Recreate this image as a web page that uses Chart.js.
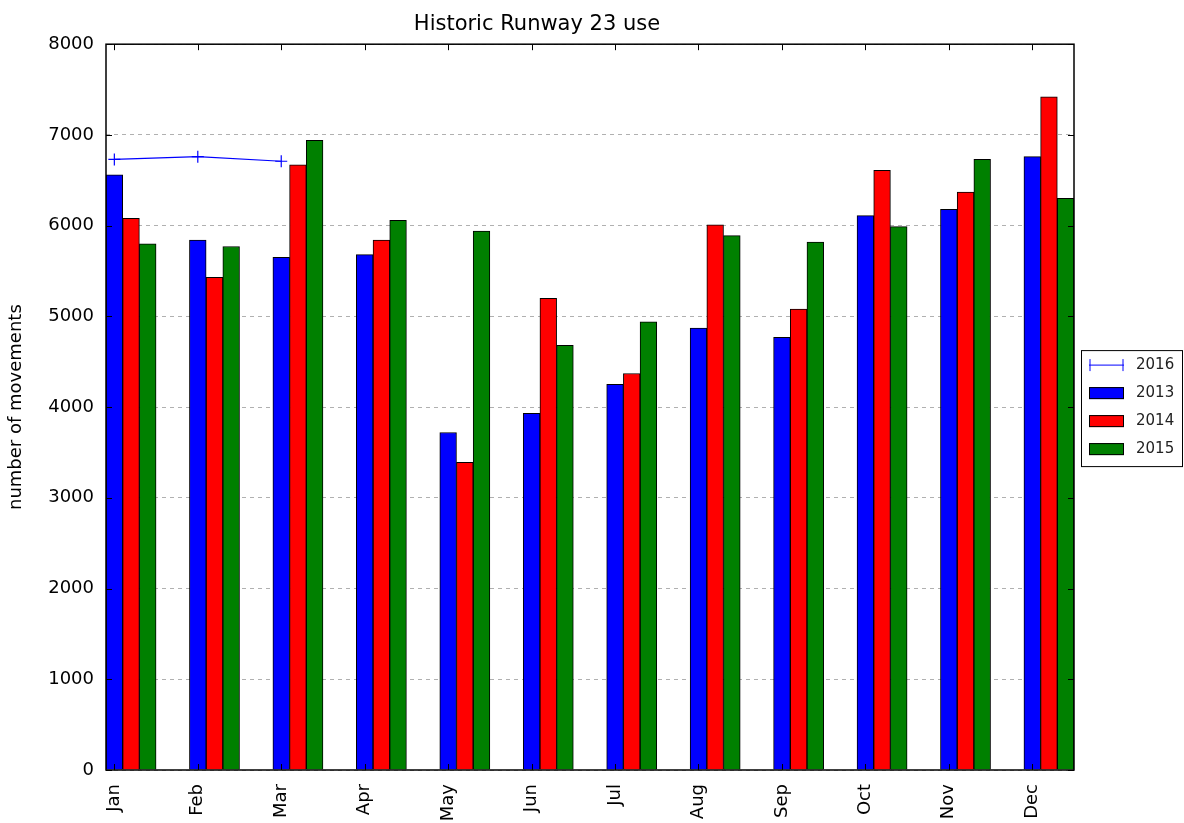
<!DOCTYPE html>
<html>
<head>
<meta charset="utf-8">
<script src="https://cdn.jsdelivr.net/npm/chart.js@4"></script>
<style>
  html, body { margin: 0; padding: 0; background: #fff; }
  #wrap { width: 1184px; height: 823px; }
</style>
</head>
<body>
<div id="wrap"><canvas id="chart"></canvas></div>
<script>
// Historic Runway 23 use - monthly movements

const months = ['Jan', 'Feb', 'Mar', 'Apr', 'May', 'Jun', 'Jul', 'Aug', 'Sep', 'Oct', 'Nov', 'Dec'];
const v2013 = [6560, 5840, 5650, 5680, 3720, 3930, 4250, 4870, 4770, 6110, 6180, 6760];
const v2014 = [6080, 5430, 6670, 5840, 3390, 5200, 4370, 6010, 5080, 6610, 6370, 7420];
const v2015 = [5800, 5770, 6940, 6060, 5940, 4680, 4940, 5890, 5820, 5990, 6730, 6300];
const v2016 = [6730, 6760, 6710];
const yTicks = [0, 1000, 2000, 3000, 4000, 5000, 6000, 7000, 8000];

const FONT = 'DejaVu Sans';

// bars sit side by side, first bar of each group centred on the month tick
function barPoints(values, shift) {
    return values.map((v, i) => ({ x: i + shift, y: v }));
}

// black frame around the plot area plus matplotlib-style inward ticks
const framePlugin = {
    id: 'frame',
    afterDraw(chart) {
        const { ctx, chartArea: a, scales } = chart;
        ctx.save();
        ctx.strokeStyle = '#000';
        ctx.lineWidth = 1;
        ctx.beginPath();
        yTicks.forEach(t => {
            const y = Math.round(scales.y.getPixelForValue(t)) + 0.5;
            ctx.moveTo(a.left, y); ctx.lineTo(a.left + 6, y);
            ctx.moveTo(a.right, y); ctx.lineTo(a.right - 6, y);
        });
        months.forEach((m, i) => {
            const x = Math.round(scales.x.getPixelForValue(i)) + 0.5;
            ctx.moveTo(x, a.top); ctx.lineTo(x, a.top + 6);
            ctx.moveTo(x, a.bottom); ctx.lineTo(x, a.bottom - 6);
        });
        ctx.stroke();
        ctx.lineWidth = 1.5;
        ctx.strokeRect(a.left, a.top, a.right - a.left, a.bottom - a.top);
        ctx.restore();
    }
};

// boxed legend outside the plot on the right
const legendPlugin = {
    id: 'sideLegend',
    afterDraw(chart) {
        const { ctx, chartArea: a } = chart;
        const items = chart.data.datasets;
        const left = a.right + 7, rowH = 28;
        const top = (a.top + a.bottom) / 2 - 57;
        ctx.save();
        ctx.fillStyle = '#fff';
        ctx.strokeStyle = '#000';
        ctx.lineWidth = 1;
        ctx.fillRect(left, top, 101, 116);
        ctx.strokeRect(left + 0.5, top + 0.5, 101, 116);
        ctx.font = '15px ' + FONT;
        ctx.textBaseline = 'middle';
        items.forEach((ds, i) => {
            const y = top + 15 + i * rowH;
            const hx = left + 8;
            if (ds.type === 'line') {
                ctx.strokeStyle = ds.borderColor;
                ctx.beginPath();
                ctx.moveTo(hx, y); ctx.lineTo(hx + 35, y);
                ctx.moveTo(hx + 1, y - 6); ctx.lineTo(hx + 1, y + 6);
                ctx.moveTo(hx + 34, y - 6); ctx.lineTo(hx + 34, y + 6);
                ctx.stroke();
            } else {
                ctx.fillStyle = ds.backgroundColor;
                ctx.fillRect(hx, y - 6, 35, 12);
                ctx.strokeStyle = '#000';
                ctx.strokeRect(hx + 0.5, y - 5.5, 34, 11);
            }
            ctx.fillStyle = '#222';
            ctx.fillText(ds.label, hx + 47, y);
        });
        ctx.restore();
    }
};

const barStyle = { borderColor: '#000', borderWidth: 1, barPercentage: 1, categoryPercentage: 1, grouped: false };

new Chart(document.getElementById('chart'), {
    type: 'bar',
    data: {
        datasets: [
            { type: 'line', label: '2016', data: barPoints(v2016, 0), borderColor: '#0000ff', backgroundColor: '#0000ff',
              borderWidth: 1.2, pointStyle: 'cross', pointRadius: 6, pointBorderWidth: 1.2, fill: false, order: 0 },
            { label: '2013', data: barPoints(v2013, 0), backgroundColor: '#0000ff', order: 1, ...barStyle },
            { label: '2014', data: barPoints(v2014, 0.2), backgroundColor: '#ff0000', order: 1, ...barStyle },
            { label: '2015', data: barPoints(v2015, 0.4), backgroundColor: '#008000', order: 1, ...barStyle }
        ]
    },
    options: {
        responsive: true,
        maintainAspectRatio: false,
        animation: false,
        layout: { padding: { left: 0, right: 110, top: 0, bottom: 0 } },
        plugins: {
            legend: { display: false },
            tooltip: { enabled: false },
            title: {
                display: true,
                text: 'Historic Runway 23 use',
                color: '#000',
                font: { family: FONT, size: 21, weight: 'normal' },
                padding: { top: 12, bottom: 7 }
            }
        },
        scales: {
            x: {
                type: 'linear',
                offset: false,
                min: -0.1,
                max: 11.5,
                afterBuildTicks: scale => { scale.ticks = months.map((m, i) => ({ value: i })); },
                afterFit: scale => { scale.height = 53; },
                grid: { display: false, offset: false },
                border: { display: false },
                ticks: {
                    autoSkip: false,
                    minRotation: 90,
                    maxRotation: 90,
                    padding: 6,
                    color: '#000',
                    font: { family: FONT, size: 18 },
                    callback: v => months[v]
                }
            },
            y: {
                min: 0,
                max: 8000,
                afterBuildTicks: scale => { scale.ticks = yTicks.map(v => ({ value: v })); },
                afterFit: scale => { scale.width = 106; },
                grid: { color: '#b0b0b0', lineWidth: 1, drawTicks: false },
                border: { display: false, dash: [4, 4] },
                title: {
                    display: true,
                    text: 'number of movements',
                    color: '#000',
                    font: { family: FONT, size: 18 },
                    padding: { top: 6, bottom: 0 }
                },
                ticks: {
                    padding: 12,
                    color: '#000',
                    font: { family: FONT, size: 18 },
                    callback: v => String(v)
                }
            }
        }
    },
    plugins: [framePlugin, legendPlugin]
});
</script>
</body>
</html>
